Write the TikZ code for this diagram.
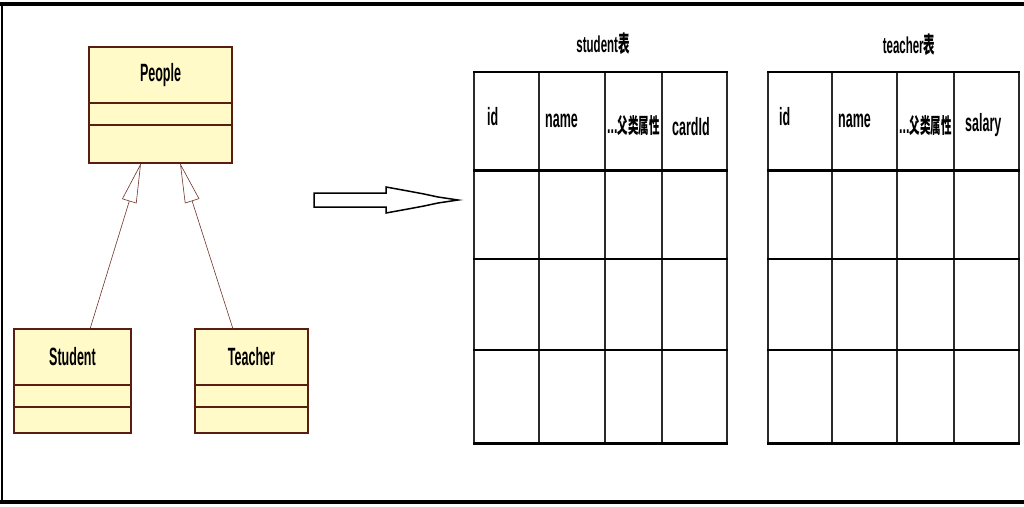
\documentclass[tikz,border=0pt]{standalone}
\usepackage{fontspec}
\setmainfont{Liberation Sans}[FakeStretch=0.5]
\newfontfamily\cjk{Noto Sans CJK SC}[FakeStretch=0.5]
\usetikzlibrary{positioning,calc,arrows.meta}
\definecolor{umlfill}{HTML}{FFFAC8}
\definecolor{umlline}{HTML}{5A1D12}
\definecolor{inherit}{HTML}{6E3328}
\definecolor{gridline}{HTML}{2A2A2A}

\newcommand{\cjkattr}{{\cjk\fontsize{21}{24}\selectfont 父类属性}}

\tikzset{
    classname/.style={draw=umlline, fill=umlfill, line width=1.2pt, inner sep=0pt, outer sep=0pt,
        minimum height=56pt, font=\bfseries\fontsize{25}{28}\selectfont},
    classpart/.style={draw=umlline, fill=umlfill, line width=1.2pt, inner sep=0pt, outer sep=0pt},
    extends/.style={draw=inherit, line width=0.6pt, -{Triangle[open, length=40pt, width=15pt]}},
    header/.style={anchor=base west, inner sep=0pt, font=\bfseries\fontsize{25}{28}\selectfont},
    tabletitle/.style={anchor=base, inner sep=0pt, font=\bfseries\fontsize{23}{26}\selectfont},
}

\begin{document}
\begin{tikzpicture}[x=1pt, y=-1pt]
    \useasboundingbox (0, 0) rectangle (1024, 506);

    % frame
    \draw[line width=4pt] (0, 4) -- (1024, 4);
    \draw[line width=4pt] (0, 502) -- (1024, 502);
    \draw[line width=2pt] (2, 4) -- (2, 502);

    % class diagram
    \node[classname, minimum width=143pt] (people) at (160.5, 75) {People};
    \node[classpart, minimum width=143pt, minimum height=22pt, below=0pt of people] (people-attr) {};
    \node[classpart, minimum width=143pt, minimum height=38pt, below=0pt of people-attr] (people-op) {};

    \node[classname, minimum width=117pt] (student) at (72.5, 357) {Student};
    \node[classpart, minimum width=117pt, minimum height=22pt, below=0pt of student] (student-attr) {};
    \node[classpart, minimum width=117pt, minimum height=26pt, below=0pt of student-attr] (student-op) {};

    \node[classname, minimum width=113pt] (teacher) at (251.5, 357) {Teacher};
    \node[classpart, minimum width=113pt, minimum height=22pt, below=0pt of teacher] (teacher-attr) {};
    \node[classpart, minimum width=113pt, minimum height=26pt, below=0pt of teacher-attr] (teacher-op) {};

    \draw[extends] ($(student.north)+(17.5, 0)$) -- ($(people-op.south)+(-19.5, 0)$);
    \draw[extends] ($(teacher.north)+(-18.5, 0)$) -- ($(people-op.south)+(19.5, 0)$);

    % mapping arrow
    \draw[line width=1.5pt, line join=miter]
        (314, 193) -- (386, 193) -- (386, 187) -- (408, 191) -- (424, 194) -- (438, 197) -- (458, 200)
        -- (438, 203) -- (424, 206) -- (408, 209) -- (386, 213) -- (386, 207) -- (314, 207) -- cycle;

    % student table
    \node[tabletitle] (s-title) at (603, 52) {student{\cjk 表}};
    \foreach \x in {474, 539, 605, 662, 727}
        \draw[gridline, line width=1.2pt] (\x, 72) -- (\x, 443);
    \draw[line width=2pt] (473, 72) -- (728, 72);
    \draw[line width=3pt] (473, 170) -- (728, 170);
    \draw[line width=2pt] (473, 259) -- (728, 259);
    \draw[line width=2pt] (473, 350) -- (728, 350);
    \draw[line width=3pt] (473, 443) -- (728, 443);
    \node[header] (s-id) at (487, 125) {id};
    \node[header] (s-name) at (545, 127) {name};
    \node[header] (s-inherit) at (607, 133) {...\cjkattr};
    \node[header] (s-card) at (672, 135) {cardId};

    % teacher table
    \node[tabletitle] (t-title) at (909, 53) {teacher{\cjk 表}};
    \foreach \x in {768, 832, 897, 954, 1019}
        \draw[gridline, line width=1.2pt] (\x, 72) -- (\x, 443);
    \draw[line width=2pt] (767, 72) -- (1020, 72);
    \draw[line width=3pt] (767, 170) -- (1020, 170);
    \draw[line width=2pt] (767, 259) -- (1020, 259);
    \draw[line width=2pt] (767, 350) -- (1020, 350);
    \draw[line width=3pt] (767, 443) -- (1020, 443);
    \node[header] (t-id) at (779, 125) {id};
    \node[header] (t-name) at (838, 127) {name};
    \node[header] (t-inherit) at (899, 133) {...\cjkattr};
    \node[header] (t-salary) at (965, 131) {salary};

\end{tikzpicture}
\end{document}
